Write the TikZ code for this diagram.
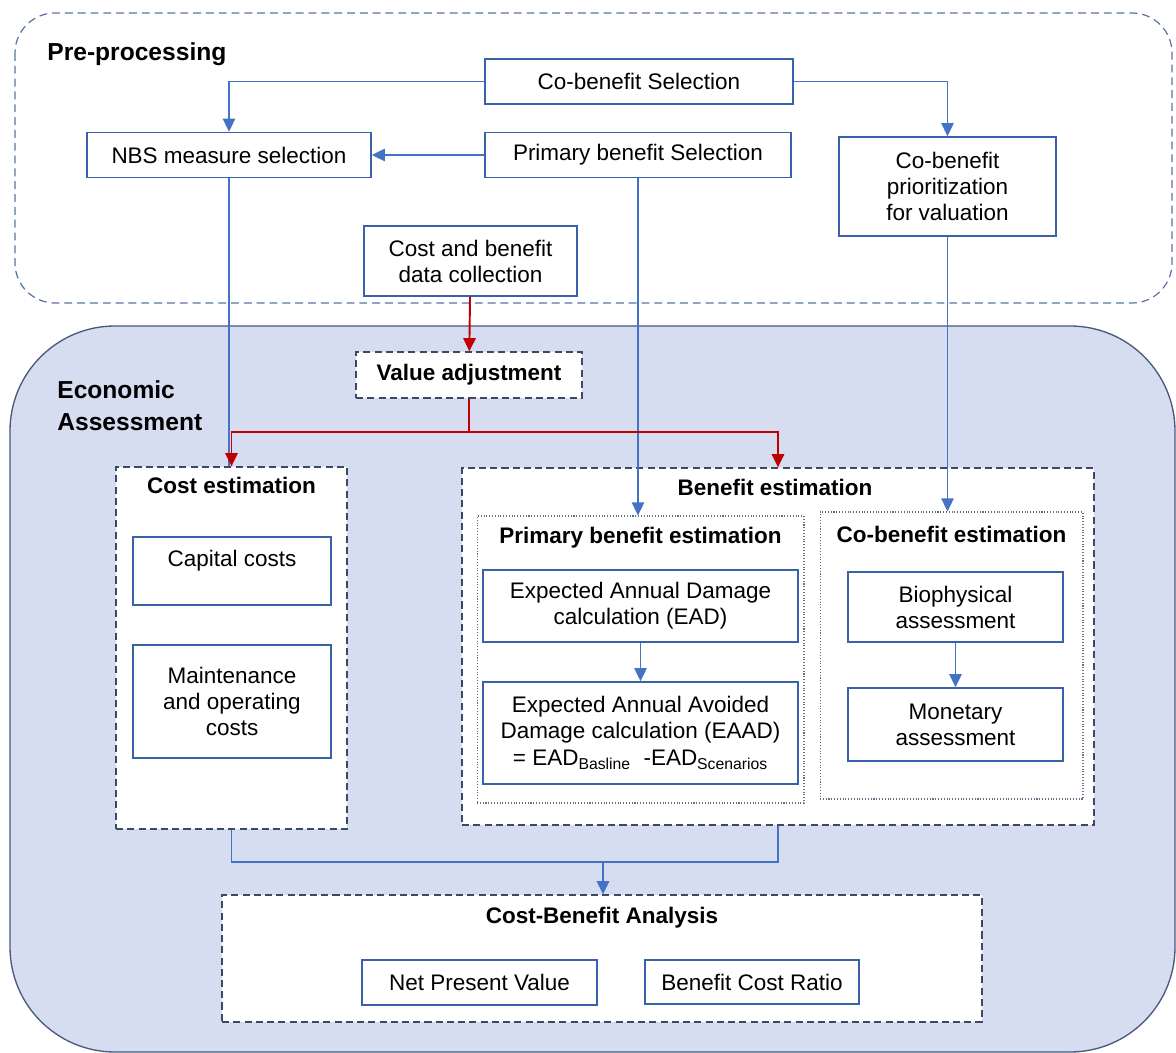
\documentclass[tikz,border=0pt]{standalone}
\usepackage{fontspec}
\setmainfont{Liberation Sans}
\usetikzlibrary{arrows.meta, positioning}
\definecolor{Flow}{RGB}{68, 114, 196}
\definecolor{BoxLine}{RGB}{58, 98, 170}
\definecolor{Adjust}{RGB}{192, 0, 0}
\definecolor{Frame}{RGB}{60, 72, 100}
\definecolor{PreLine}{RGB}{90, 115, 165}
\definecolor{EcoFill}{RGB}{214, 221, 240}
\definecolor{EcoLine}{RGB}{70, 88, 125}

\tikzset{
  box/.style={draw=BoxLine, line width=0.85pt, fill=white, align=center, inner sep=2pt},
  stage/.style={draw=Frame, line width=0.75pt, dash pattern=on 4pt off 2.4pt, fill=white},
  substage/.style={draw=Frame!80, line width=0.6pt, densely dotted, fill=white},
  heading/.style={font=\fontsize{12.8}{14.8}\selectfont\bfseries, text height=9.5pt, text depth=2.5pt, inner sep=0pt},
  region/.style={font=\fontsize{14}{18}\selectfont\bfseries, align=left, inner sep=0pt},
  flow/.style={draw=Flow, line width=1.1pt},
  adjust/.style={draw=Adjust, line width=1.1pt}
}

\begin{document}
\begin{tikzpicture}[x=0.02cm, y=-0.02cm, font=\fontsize{12.8}{14.8}\selectfont,
    >={Triangle[width=7pt,length=7.5pt]}]
  \useasboundingbox (0,0) rectangle (1176,1053);

  % the two phases
  \draw[draw=EcoLine, fill=EcoFill, line width=0.75pt, rounded corners=2.1cm] (10,326) rectangle (1175,1052);
  \draw[draw=PreLine, line width=0.7pt, dash pattern=on 4.5pt off 2.8pt, rounded corners=0.8cm] (15,13) rectangle (1172,303);
  \node[region, anchor=base west] (pretitle) at (47,61) {Pre-processing};
  \node[region, anchor=west] (ecotitle) at (57,406) {Economic\\Assessment};

  % pre-processing
  \node[box, minimum width=6.16cm, minimum height=0.9cm] (cobsel) at (639,81.5) {Co-benefit Selection};
  \node[box, minimum width=5.68cm, minimum height=0.9cm] (nbs) at (229,155) {NBS measure selection};
  \node[box, minimum width=6.12cm, minimum height=0.9cm] (prisel) at (638,155) {Primary benefit Selection};
  \node[box, minimum width=4.34cm, minimum height=1.98cm] (prio) at (947.5,186.5) {Co-benefit\\prioritization\\for valuation};
  \node[box, minimum width=4.26cm, minimum height=1.4cm] (data) at (470.5,261) {Cost and benefit\\data collection};

  % economic assessment
  \node[stage, minimum width=4.52cm, minimum height=0.92cm, font=\fontsize{12.8}{14.8}\selectfont\bfseries] (valadj) at (469,375) {Value adjustment};

  \node[stage, minimum width=4.62cm, minimum height=7.24cm] (costest) at (231.5,648) {};
  \node[heading] (costtitle) at (231.5,487) {Cost estimation};
  \node[box, minimum width=3.96cm, minimum height=1.36cm, text height=9.5pt, text depth=15pt] (capex) at (232,571) {Capital costs};
  \node[box, minimum width=3.96cm, minimum height=2.26cm] (opex) at (232,701.5) {Maintenance\\and operating\\costs};

  \node[stage, minimum width=12.64cm, minimum height=7.14cm] (benest) at (778,646.5) {};
  \node[heading] (bentitle) at (775,489) {Benefit estimation};
  \node[substage, minimum width=6.54cm, minimum height=5.74cm] (priest) at (640.5,659.5) {};
  \node[heading] (prititle) at (640.5,537) {Primary benefit estimation};
  \node[box, minimum width=6.3cm, minimum height=1.44cm] (ead) at (640.5,606) {Expected Annual Damage\\calculation (EAD)};
  \node[box, minimum width=6.3cm, minimum height=2.04cm] (eaad) at (640.5,733) {Expected Annual Avoided\\Damage calculation (EAAD)\\= EAD\textsubscript{Basline}\ \ -EAD\textsubscript{Scenarios}};
  \node[substage, minimum width=5.26cm, minimum height=5.74cm] (coest) at (951.5,655.5) {};
  \node[heading] (cotitle) at (951.5,536) {Co-benefit estimation};
  \node[box, minimum width=4.3cm, minimum height=1.4cm] (bio) at (955.5,607) {Biophysical\\assessment};
  \node[box, minimum width=4.3cm, minimum height=1.46cm] (mon) at (955.5,724.5) {Monetary\\assessment};

  \node[stage, minimum width=15.2cm, minimum height=2.54cm] (cba) at (602,958.5) {};
  \node[heading] (cbatitle) at (602,917) {Cost-Benefit Analysis};
  \node[box, minimum width=4.7cm, minimum height=0.9cm] (npv) at (479.5,982.5) {Net Present Value};
  \node[box, minimum width=4.28cm, minimum height=0.88cm] (bcr) at (752,982) {Benefit Cost Ratio};

  % blue flow
  \draw[flow, ->] (cobsel.west) -| (nbs.north);
  \draw[flow, ->] (cobsel.east) -| (prio.north);
  \draw[flow, ->] (prisel.west) -- (nbs.east);
  \draw[flow, ->] (prisel.south) -- (prisel.south |- priest.north);
  \draw[flow, ->] (prio.south) -- (prio.south |- coest.north);
  \draw[flow] (nbs.south) -- (nbs.south |- costest.north);
  \draw[flow, ->] (ead) -- (eaad);
  \draw[flow, ->] (bio) -- (mon);
  \coordinate (join) at (603,862);
  \draw[flow] (costest.south) |- (join);
  \draw[flow] (benest.south) |- (join);
  \draw[flow, ->] (join) -- (join |- cba.north);

  % red adjustment
  \coordinate (split) at (469,432);
  \draw[adjust, ->] (data) -- (valadj);
  \draw[adjust] (valadj.south) -- (split);
  \draw[adjust, ->] (split) -| (costest.north);
  \draw[adjust, ->] (split) -| (benest.north);
\end{tikzpicture}
\end{document}
